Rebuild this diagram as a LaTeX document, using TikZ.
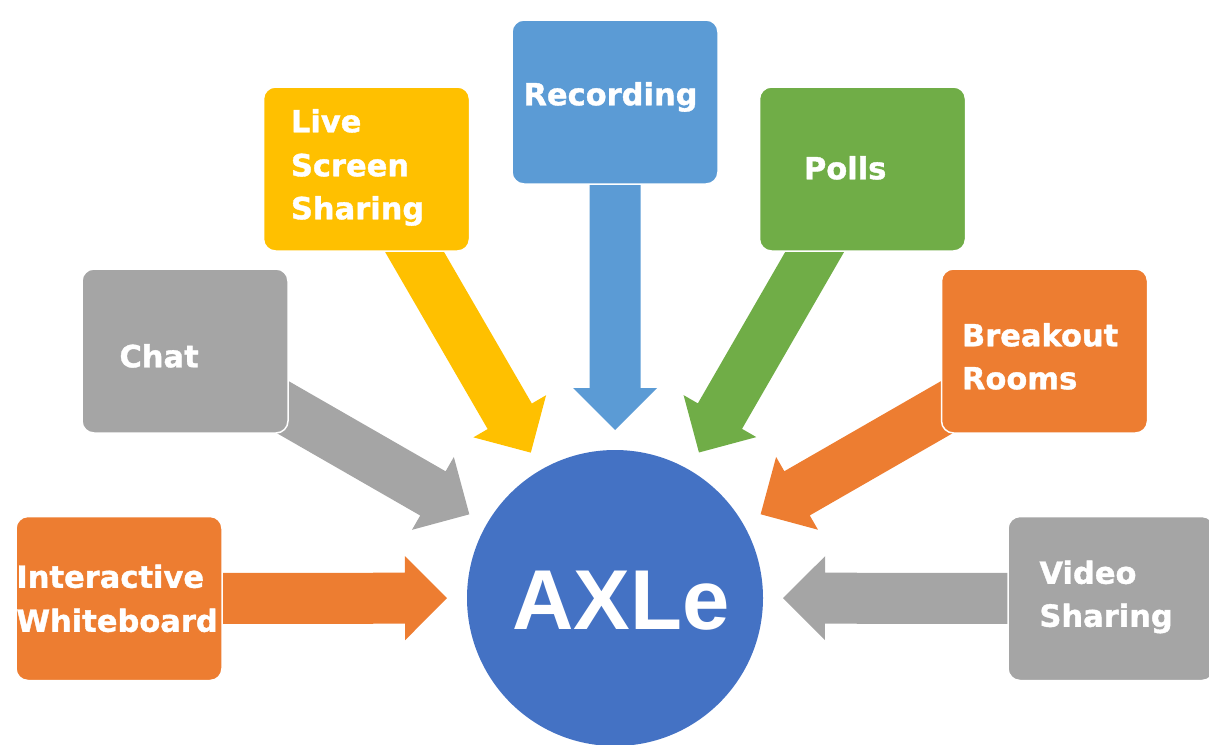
\documentclass[tikz,border=0pt]{standalone}
\usepackage{fontspec}
\setmainfont{DejaVu Sans}[BoldFeatures={FakeBold=1.2}]
\newfontfamily\axlefont{Liberation Sans}
\usetikzlibrary{calc}
\pgfdeclarelayer{bg}
\pgfsetlayers{bg,main}
\definecolor{cOrange}{HTML}{ED7D31}
\definecolor{cGray}{HTML}{A5A5A5}
\definecolor{cYellow}{HTML}{FFC000}
\definecolor{cLBlue}{HTML}{5B9BD5}
\definecolor{cGreen}{HTML}{70AD47}
\definecolor{cBlue}{HTML}{4472C4}
\tikzset{
  box/.style={draw=white, line width=1.5pt, rounded corners=12pt,
    minimum width=206pt, minimum height=164pt, inner sep=0pt, fill=#1},
  lbl/.style={text=white, font=\fontsize{30.5}{36}\selectfont\bfseries,
    anchor=base west, inner sep=0pt},
  hub/.style={circle, fill=cBlue, minimum size=296pt, inner sep=0pt},
}
% block arrow from the centre of box #1 towards the hub, coloured #2
\newcommand\blockarrow[2]{%
  \coordinate (#1-b) at ($(axle.center)!210pt!(#1.center)$);
  \fill[#2] ($(axle.center)!168pt!(#1.center)$)
    -- ($(#1-b)!42pt!90:(#1.center)$)
    -- ($(#1-b)!25.5pt!90:(#1.center)$)
    -- ($(#1.center)!25.5pt!-90:(axle.center)$)
    -- ($(#1.center)!25.5pt!90:(axle.center)$)
    -- ($(#1-b)!25.5pt!-90:(#1.center)$)
    -- ($(#1-b)!42pt!-90:(#1.center)$)
    -- cycle;}
\begin{document}
\begin{tikzpicture}[x=1pt, y=-1pt]
\useasboundingbox (0,0) rectangle (1209,744);
% hub
\node[hub] (axle) at (615,598) {};
\node[text=white, font=\axlefont\bfseries\fontsize{85}{90}\selectfont,
  anchor=base west, inner sep=0pt] (axletxt) at (512,629) {AXLe};
% boxes
\node[box=cOrange] (wb)    at (119,598.5) {};
\node[box=cGray]   (chat)  at (185,351) {};
\node[box=cYellow] (live)  at (366.5,169) {};
\node[box=cLBlue]  (rec)   at (615,102) {};
\node[box=cGreen]  (polls) at (862.5,169) {};
\node[box=cOrange] (brk)   at (1044.5,351) {};
\node[box=cGray]   (vid)   at (1111,598.5) {};
% arrows
\begin{pgfonlayer}{bg}
\blockarrow{wb}{cOrange}
\blockarrow{chat}{cGray}
\blockarrow{live}{cYellow}
\blockarrow{rec}{cLBlue}
\blockarrow{polls}{cGreen}
\blockarrow{brk}{cOrange}
\blockarrow{vid}{cGray}
\end{pgfonlayer}
% labels
\node[lbl] (wb1) at ($(wb.north west)+(1,72)$) {Interactive};
\node[lbl] (wb2) at ($(wb.north west)+(1,116)$) {Whiteboard};
\node[lbl] (ch1) at ($(chat.north west)+(38,99)$) {Chat};
\node[lbl] (lv1) at ($(live.north west)+(28,46)$) {Live};
\node[lbl] (lv2) at ($(live.north west)+(28,90)$) {Screen};
\node[lbl] (lv3) at ($(live.north west)+(28,133)$) {Sharing};
\node[lbl] (rc1) at ($(rec.north west)+(12,86)$) {Recording};
\node[lbl] (pl1) at ($(polls.north west)+(45,93)$) {Polls};
\node[lbl] (bk1) at ($(brk.north west)+(21,78)$) {Breakout};
\node[lbl] (bk2) at ($(brk.north west)+(21,121)$) {Rooms};
\node[lbl] (vd1) at ($(vid.north west)+(32,68)$) {Video};
\node[lbl] (vd2) at ($(vid.north west)+(32,111)$) {Sharing};
\end{tikzpicture}
\end{document}
